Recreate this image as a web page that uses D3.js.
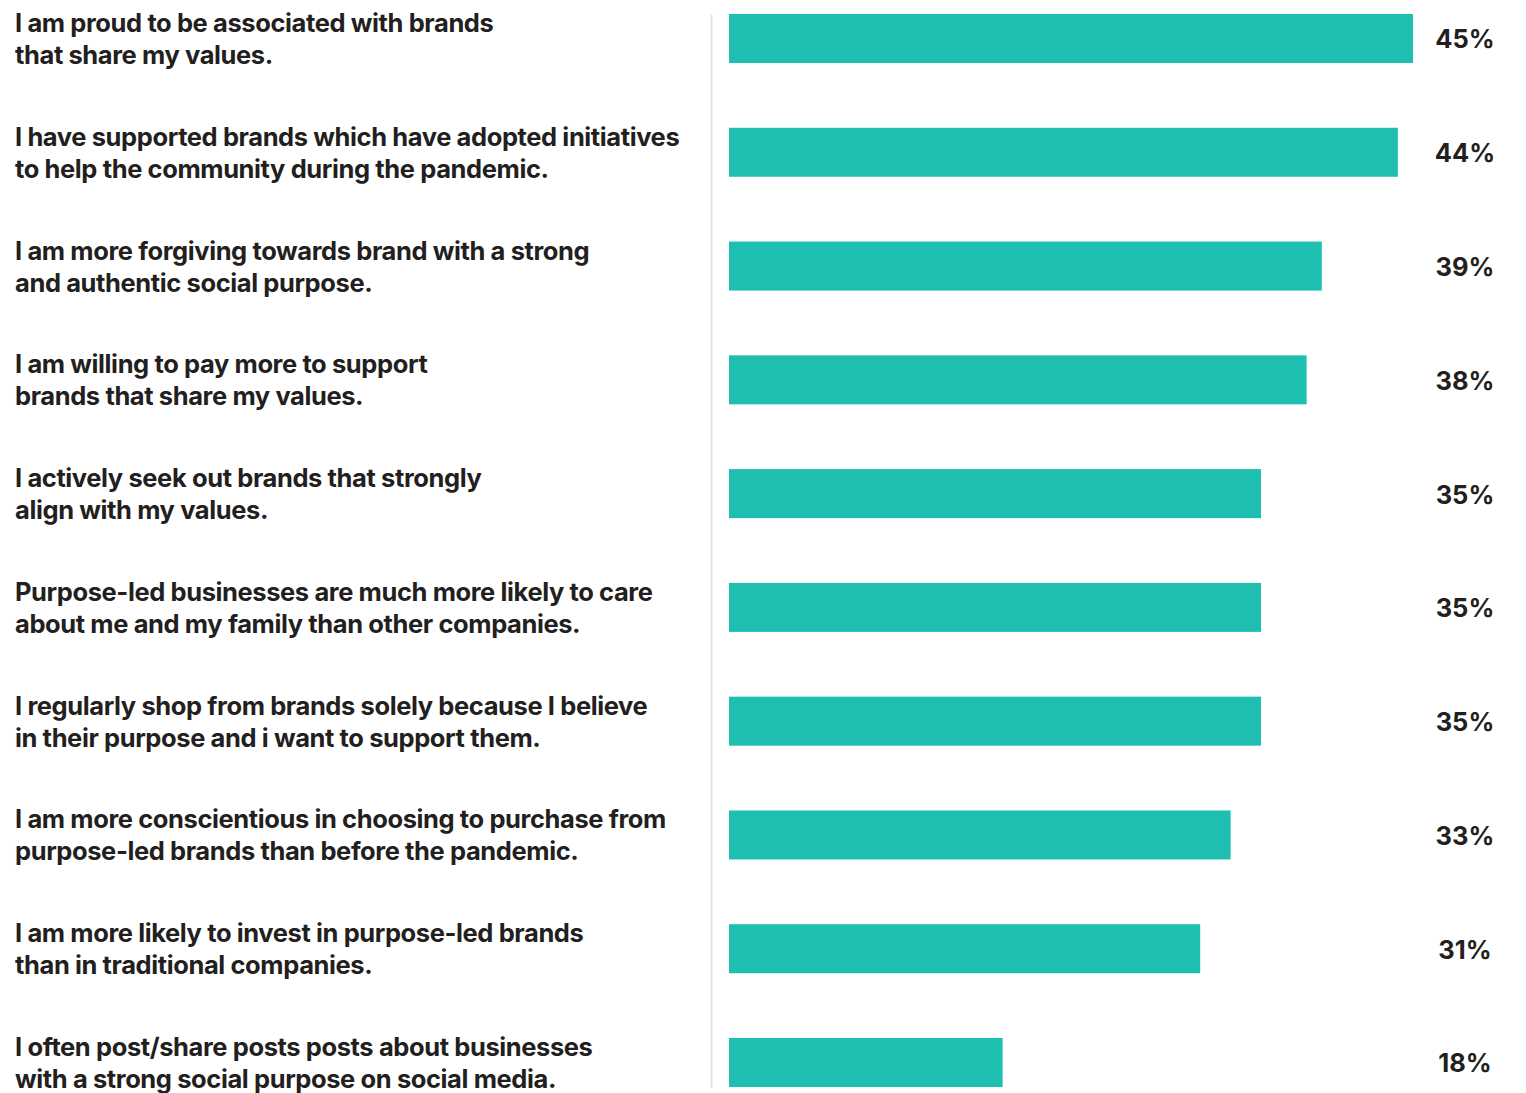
<!DOCTYPE html>
<html>
<head>
<meta charset="utf-8">
<script src="https://cdn.jsdelivr.net/npm/d3@7"></script>
<style>
  html, body { margin: 0; padding: 0; background: #ffffff; }
  svg { display: block; }
  .label { font-family: Inter, "Liberation Sans", sans-serif; font-weight: 700; font-size: 25.5px; fill: #231f20; letter-spacing: -0.4px; }
  .value { font-family: Inter, "Liberation Sans", sans-serif; font-weight: 700; font-size: 25.5px; fill: #231f20; }
</style>
</head>
<body>
<svg id="chart" width="1526" height="1093"></svg>
<script>
// Survey statements (two lines each) and share of respondents agreeing
const statements = [
  ["I am proud to be associated with brands", "that share my values."],
  ["I have supported brands which have adopted initiatives", "to help the community during the pandemic."],
  ["I am more forgiving towards brand with a strong", "and authentic social purpose."],
  ["I am willing to pay more to support", "brands that share my values."],
  ["I actively seek out brands that strongly", "align with my values."],
  ["Purpose-led businesses are much more likely to care", "about me and my family than other companies."],
  ["I regularly shop from brands solely because I believe", "in their purpose and i want to support them."],
  ["I am more conscientious in choosing to purchase from", "purpose-led brands than before the pandemic."],
  ["I am more likely to invest in purpose-led brands", "than in traditional companies."],
  ["I often post/share posts posts about businesses", "with a strong social purpose on social media."]
];
const values = [45, 44, 39, 38, 35, 35, 35, 33, 31, 18];

const svg = d3.select("#chart");
const ids = d3.range(values.length);

const x = d3.scaleLinear().domain([0, 45]).range([729, 1413]);
const y = d3.scaleBand().domain(ids).range([14, 1087]).paddingInner(0.5694).paddingOuter(0);

// divider between statements and bars
svg.append("line")
  .attr("x1", 711.5).attr("x2", 711.5)
  .attr("y1", y(0)).attr("y2", 1088)
  .attr("stroke", "#e6e6e6").attr("stroke-width", 2);

// bars
svg.append("g").selectAll("rect")
  .data(ids).join("rect")
  .attr("x", x(0))
  .attr("y", i => y(i))
  .attr("width", i => x(values[i]) - x(0))
  .attr("height", y.bandwidth())
  .attr("fill", "#1ebfb0");

// value labels
svg.append("g").selectAll("text")
  .data(ids).join("text")
  .attr("class", "value")
  .attr("x", 1465)
  .attr("y", i => y(i) + y.bandwidth() / 2 + 1)
  .attr("dy", "0.35em")
  .attr("text-anchor", "middle")
  .text(i => values[i] + "%");

// statement labels
const lab = svg.append("g").selectAll("text")
  .data(ids).join("text")
  .attr("class", "label")
  .attr("x", 15)
  .attr("y", i => y(i) + y.bandwidth() / 2 - 6.5);
lab.selectAll("tspan")
  .data(i => statements[i]).join("tspan")
  .attr("x", 15)
  .attr("dy", (d, k) => k === 0 ? 0 : 32)
  .text(d => d);
</script>
</body>
</html>
